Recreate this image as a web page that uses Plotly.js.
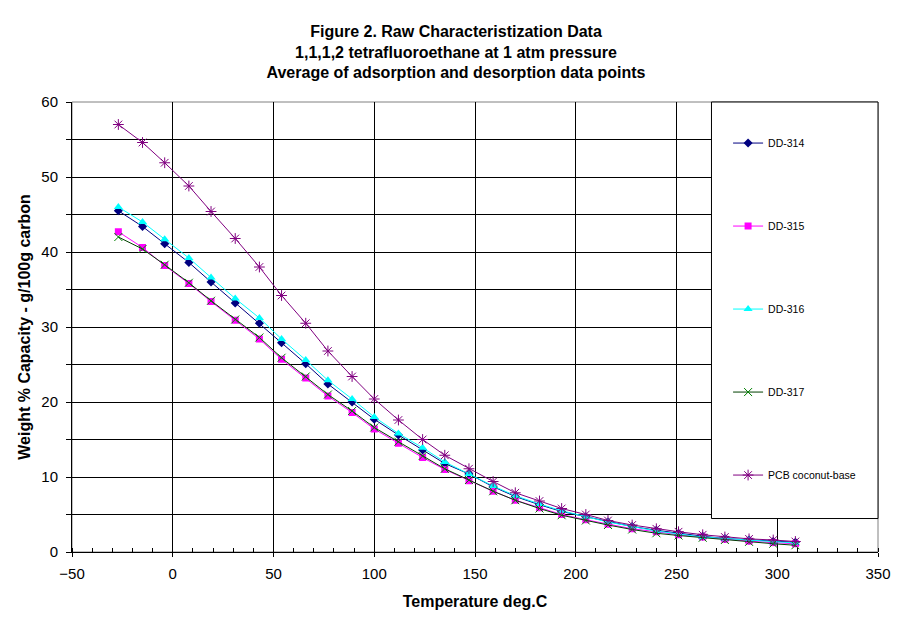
<!DOCTYPE html>
<html>
<head>
<meta charset="utf-8">
<script src="https://cdn.plot.ly/plotly-3.0.1.min.js"></script>
<style>
html,body{margin:0;padding:0;background:#fff;}
#chart{width:912px;height:623px;}
</style>
</head>
<body>
<div id="chart"></div>
<script>
// Temperature (deg.C)
var temps = [-27, -15, -4, 8, 19, 31, 43, 54, 66, 77, 89, 100, 112, 124, 135, 147, 159, 170, 182, 193, 205, 216, 228, 240, 251, 263, 274, 286, 298, 309];

var seriesNames = ["DD-314", "DD-315", "DD-316", "DD-317", "PCB coconut-base"];

var dd314 = [45.5, 43.4, 41.1, 38.6, 36.0, 33.2, 30.5, 27.9, 25.1, 22.4, 20.0, 17.7, 15.6, 13.6, 11.8, 10.4, 8.7, 7.4, 6.3, 5.4, 4.7, 4.0, 3.4, 2.9, 2.5, 2.1, 1.8, 1.6, 1.4, 1.3];
var dd315 = [42.7, 40.6, 38.2, 35.8, 33.4, 30.9, 28.4, 25.7, 23.2, 20.8, 18.6, 16.4, 14.5, 12.6, 11.0, 9.5, 8.1, 6.9, 5.9, 5.0, 4.3, 3.7, 3.1, 2.7, 2.3, 2.0, 1.7, 1.45, 1.25, 1.1];
var dd316 = [46.0, 44.0, 41.7, 39.2, 36.6, 33.8, 31.2, 28.4, 25.6, 22.9, 20.4, 18.0, 15.8, 13.9, 12.0, 10.4, 8.8, 7.5, 6.4, 5.5, 4.7, 4.0, 3.4, 2.8, 2.4, 2.0, 1.8, 1.6, 1.3, 1.2];
var dd317 = [42.0, 40.4, 38.3, 35.9, 33.5, 31.0, 28.6, 25.9, 23.4, 21.0, 18.8, 16.6, 14.7, 12.8, 11.1, 9.6, 8.1, 6.9, 5.8, 4.9, 4.2, 3.6, 3.0, 2.5, 2.2, 1.9, 1.6, 1.35, 1.1, 0.9];
var pcb   = [57.0, 54.6, 51.9, 48.8, 45.4, 41.8, 38.0, 34.2, 30.5, 26.8, 23.4, 20.4, 17.6, 15.0, 12.9, 11.1, 9.4, 7.9, 6.8, 5.8, 5.0, 4.2, 3.6, 3.1, 2.7, 2.3, 2.0, 1.75, 1.6, 1.4];

var titleLines = ["Figure 2. Raw Characteristization Data", "1,1,1,2 tetrafluoroethane at 1 atm pressure", "Average of adsorption and desorption data points"];
var xTitle = "Temperature deg.C";
var yTitle = "Weight % Capacity - g/100g carbon";

var FONT = "Arial, 'Liberation Sans', sans-serif";

var styles = [
  {line: "#000080", marker: {symbol: "diamond", size: 7, color: "#000080"}},
  {line: "#FF00FF", marker: {symbol: "square", size: 7, color: "#FF00FF"}},
  {line: "#00FFFF", marker: {symbol: "triangle-up", size: 8, color: "#00FFFF"}},
  {line: "#004000", marker: {symbol: "x-thin-open", size: 8, color: "#008000", line: {width: 1, color: "#008000"}}},
  {line: "#800080", marker: {symbol: "asterisk-open", size: 9, color: "#800080", line: {width: 1, color: "#800080"}}}
];
var values = [dd314, dd315, dd316, dd317, pcb];

var traces = values.map(function (v, i) {
  return {
    type: "scatter",
    mode: "lines+markers",
    name: seriesNames[i],
    legendgroup: "g" + i,
    x: temps,
    y: v,
    line: {color: styles[i].line, width: 1},
    marker: styles[i].marker
  };
});

var layout = {
  width: 912,
  height: 623,
  paper_bgcolor: "#fff",
  plot_bgcolor: "#fff",
  margin: {l: 72, r: 34, t: 102, b: 71},
  font: {family: FONT, color: "#000"},
  title: {
    text: titleLines.join("<br>"),
    font: {family: FONT, size: 16, color: "#000", weight: "bold"},
    x: 0.5, xref: "container", xanchor: "center",
    y: 0.941, yref: "container", yanchor: "top"
  },
  xaxis: {
    range: [-50, 350],
    dtick: 50,
    tick0: 0,
    showgrid: true,
    gridcolor: "#000",
    gridwidth: 1,
    zeroline: false,
    showline: true,
    linecolor: "#000",
    linewidth: 1,
    ticks: "outside",
    ticklen: 4,
    tickcolor: "#000",
    ticklabelstandoff: 4,
    tickfont: {size: 15, family: FONT, color: "#000"},
    minor: {dtick: 10, ticks: "inside", ticklen: 4, tickcolor: "#000", showgrid: false},
    title: {text: xTitle, font: {size: 16, family: FONT, weight: "bold", color: "#000"}, standoff: 14}
  },
  yaxis: {
    range: [0, 60],
    dtick: 10,
    tick0: 0,
    showgrid: true,
    gridcolor: "#000",
    gridwidth: 1,
    zeroline: false,
    showline: true,
    linecolor: "#000",
    linewidth: 1,
    ticks: "outside",
    ticklen: 5,
    tickcolor: "#000",
    ticklabelstandoff: 5,
    tickfont: {size: 15, family: FONT, color: "#000"},
    minor: {dtick: 5, ticks: "outside", ticklen: 5, tickcolor: "#000", showgrid: true, gridcolor: "#000", gridwidth: 1},
    title: {text: yTitle, font: {size: 16, family: FONT, weight: "bold", color: "#000"}, standoff: 6}
  },
  showlegend: true,
  legend: {
    x: 0.814, xanchor: "left",
    y: 0.941, yanchor: "top",
    bgcolor: "rgba(0,0,0,0)",
    borderwidth: 0,
    font: {size: 10.5, family: FONT, color: "#000"},
    tracegroupgap: 64,
    itemclick: false
  },
  shapes: [
    {type: "rect", xref: "paper", yref: "paper", x0: 0, x1: 1, y0: 0, y1: 1,
     line: {color: "#808080", width: 1}, layer: "below"},
    {type: "rect", xref: "paper", yref: "paper", x0: 0.7934, x1: 1, y0: 0.0744, y1: 1,
     line: {color: "#000", width: 1}, fillcolor: "#fff", layer: "above"}
  ]
};

Plotly.newPlot("chart", traces, layout, {displayModeBar: false, staticPlot: true});
</script>
</body>
</html>
